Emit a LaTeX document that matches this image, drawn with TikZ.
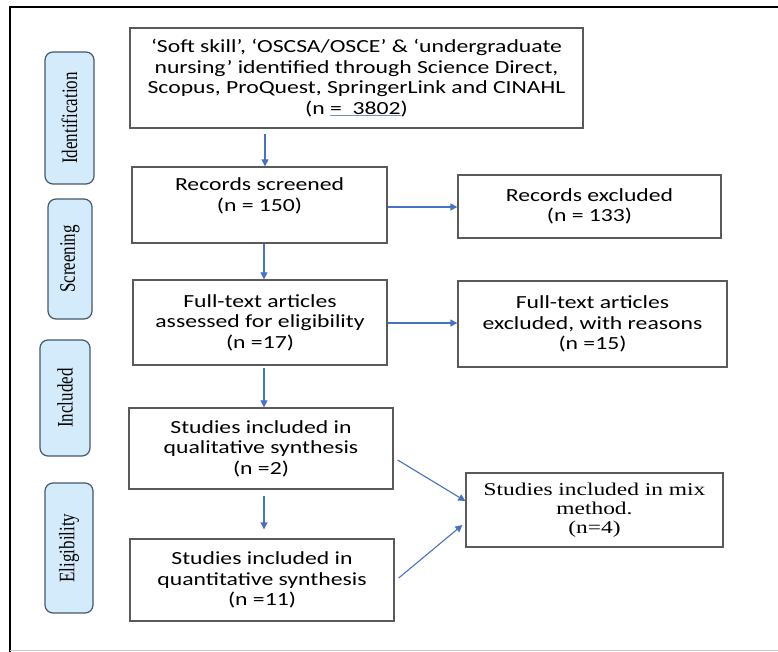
\documentclass[tikz,border=0pt]{standalone}
\usepackage{fontspec}
\setmainfont{Carlito}[FakeStretch=1.28]
\newfontfamily\timesfont{Liberation Serif}[FakeStretch=1.3]
\newfontfamily\timesplain{Liberation Serif}
\usetikzlibrary{arrows.meta,calc}
\definecolor{arrowblue}{HTML}{4472C4}
\definecolor{boxgray}{HTML}{5A5A5A}
\definecolor{sidefill}{HTML}{D3EBFA}
\definecolor{sideedge}{HTML}{44586A}
\definecolor{ulblue}{HTML}{6E8FC8}
\tikzset{
  x=1pt, y=-1pt,
  flowbox/.style={draw=boxgray, line width=1.3pt, align=center, inner sep=0pt,
    font=\fontsize{18.5}{20.5}\selectfont},
  mixbox/.style={draw=boxgray, line width=1.3pt, align=center, inner sep=0pt,
    font=\timesfont\fontsize{18}{19}\selectfont},
  sidebox/.style={draw=sideedge, fill=sidefill, line width=1.2pt, rounded corners=8pt,
    inner sep=0pt, font=\timesplain\fontsize{17}{19}\selectfont},
  flowarrow/.style={draw=arrowblue, line width=1.1pt, -{Triangle[length=7pt,width=7pt]}},
}
\newcommand{\sidetext}[1]{\scalebox{1.3}[1]{\rotatebox{90}{#1}}}
\begin{document}
\begin{tikzpicture}
\useasboundingbox (0,0) rectangle (778,652);
\fill[white] (0,0) rectangle (778,652);
% outer frame
\coordinate (ftl) at (10,7);
\coordinate (ftr) at (778,7);
\coordinate (fbl) at (10,652);
\coordinate (fbs) at (10,650);
\coordinate (fbr) at (778,650);
\draw[black, line width=2.6pt] (ftr) -- (ftl) -- (fbl);
\draw[gray!40, line width=0.8pt] (fbs) -- (fbr);

% side labels
\node[sidebox, minimum width=49pt, minimum height=132pt] (sid) at (69.5,118) {\sidetext{Identification}};
\node[sidebox, minimum width=44pt, minimum height=120pt] (sscr) at (70,259) {\sidetext{Screening}};
\node[sidebox, minimum width=50pt, minimum height=116pt] (sinc) at (65,398) {\sidetext{Included}};
\node[sidebox, minimum width=48pt, minimum height=130pt] (selg) at (69,548) {\sidetext{Eligibility}};

% main column
\node[flowbox, minimum width=453pt, minimum height=100pt] (b1) at (356.5,78)
  {‘Soft skill’, ‘OSCSA/OSCE’ \& ‘undergraduate\\
   nursing’ identified through Science Direct,\\
   Scopus, ProQuest, SpringerLink and CINAHL\\
   (n \textcolor{ulblue}{$\underline{\hbox{\color{black}=\ \ 3802}}$})};
\node[flowbox, minimum width=255pt, minimum height=76pt] (b2) at (259.5,205)
  {Records screened\\(n = 150)\\\mbox{}};
\node[flowbox, minimum width=254pt, minimum height=85pt] (b3) at (260,322.5)
  {Full-text articles\\assessed for eligibility\\(n =17)};
\node[flowbox, minimum width=264pt, minimum height=81pt] (b4) at (261,448.5)
  {Studies included in\\qualitative synthesis\\(n =2)};
\node[flowbox, minimum width=264pt, minimum height=82pt] (b5) at (262,580)
  {Studies included in\\quantitative synthesis\\(n =11)};

% right column
\node[flowbox, minimum width=263pt, minimum height=63pt] (r1) at (589.5,206.5)
  {Records excluded\\(n = 133)};
\node[flowbox, minimum width=269pt, minimum height=86pt] (r2) at (592.5,324)
  {Full-text articles\\excluded, with reasons\\(n =15)};
\node[mixbox, minimum width=257pt, minimum height=74pt] (r3) at (594.5,510)
  {Studies included in mix\\method.\\(n=4)};

% connectors
\draw[flowarrow] ($(b2.north |- b1.south)+(5.5,5)$) -- ([xshift=5.5pt]b2.north);
\draw[flowarrow] ([xshift=4.5pt]b2.south) -- ([xshift=4pt]b3.north);
\draw[flowarrow] ([xshift=4pt,yshift=-2pt]b3.south) -- ([xshift=3pt]b4.north);
\draw[flowarrow] ([xshift=3pt,yshift=-6pt]b4.south) -- ([xshift=2pt,yshift=9pt]b5.north);
\draw[flowarrow] ($(b2.east)+(0,2)$) -- ($(r1.west |- b2.east)+(0,2)$);
\draw[flowarrow] ($(b3.east)+(0,0.5)$) -- ($(r2.west |- b3.east)+(0,0.5)$);
\draw[flowarrow] ([xshift=4pt,yshift=-11.5pt]b4.east) -- ([yshift=9pt]r3.west);
\draw[flowarrow] ([xshift=4pt,yshift=2pt]b5.east) -- ([xshift=-3pt,yshift=-15pt]r3.west);
\end{tikzpicture}
\end{document}
